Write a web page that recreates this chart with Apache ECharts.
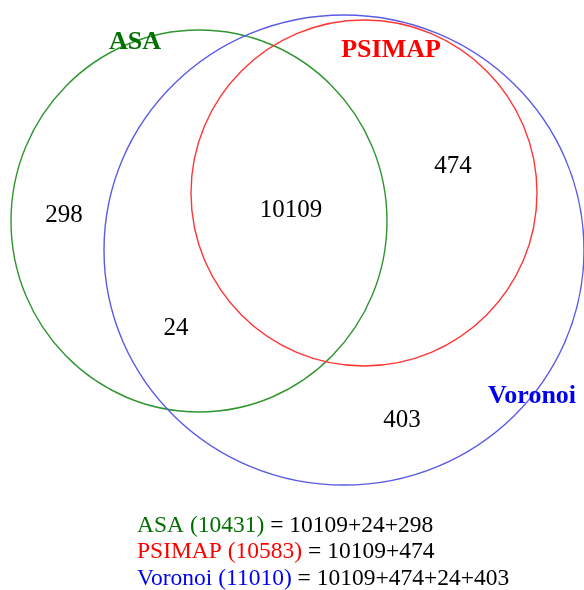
<!DOCTYPE html>
<html>
<head>
<meta charset="utf-8">
<script src="https://cdn.jsdelivr.net/npm/echarts@6/dist/echarts.min.js"></script>
<style>
  html, body { margin: 0; padding: 0; background: #fff; }
  #chart { width: 584px; height: 590px; }
</style>
</head>
<body>
<div id="chart"></div>
<script>
  // sets and their totals
  const setNames = ['ASA', 'PSIMAP', 'Voronoi']
  const setTotals = [10431, 10583, 11010]
  const setParts = [[10109, 24, 298], [10109, 474], [10109, 474, 24, 403]]

  // region counts (only ASA, all three, PSIMAP+Voronoi, ASA+Voronoi, only Voronoi)
  const regionCounts = [298, 10109, 474, 24, 403]

  // circle geometry in picture units: [cx, cy], [rx, ry]
  const circleCenters = [[199, 221], [364, 193], [344, 250]]
  const circleRadii = [[188, 191], [173, 173], [240, 235]]

  // where texts sit
  const setLabelPos = [[135, 42], [391, 50], [532, 396]]
  const regionPos = [[64, 215], [291, 210], [453, 166], [176, 328], [402, 420]]
  const formulaPos = [[137, 526], [137, 552], [137, 579]]

  const lineColors = ['#2f952f', '#ff3636', '#5a5ae6']
  const textColors = ['#007000', '#ff0000', '#0000f0']
  const serif = '"Liberation Serif", "DejaVu Serif", serif'

  const chart = echarts.init(document.getElementById('chart'))

  const circleData = circleCenters.map((c, i) => [c[0], c[1], circleRadii[i][0], circleRadii[i][1]])

  const formulaData = setNames.map((name, i) => ({
    value: formulaPos[i],
    label: {
      formatter: '{s' + i + '|' + name + ' (' + setTotals[i] + ')} = ' + setParts[i].join('+')
    }
  }))

  const option = {
    animation: false,
    grid: { left: 0, top: 0, width: 584, height: 590 },
    xAxis: { type: 'value', min: 0, max: 584, show: false },
    yAxis: { type: 'value', min: 0, max: 590, inverse: true, show: false },
    series: [
      {
        type: 'custom',
        clip: false,
        silent: true,
        data: circleData,
        renderItem: (params, api) => {
          const c = api.coord([api.value(0), api.value(1)])
          const r = api.size([api.value(2), api.value(3)])
          return {
            type: 'ellipse',
            shape: { cx: c[0], cy: c[1], rx: r[0], ry: r[1] },
            style: { fill: 'none', stroke: lineColors[params.dataIndex], lineWidth: 1.4 }
          }
        }
      },
      {
        type: 'scatter',
        symbolSize: 0,
        silent: true,
        itemStyle: { opacity: 1 },
        data: regionPos.map((p, i) => [p[0], p[1], regionCounts[i]]),
        label: {
          show: true,
          position: 'inside',
          formatter: p => p.value[2],
          color: '#000',
          textBorderWidth: 0,
          fontFamily: serif,
          fontSize: 25
        }
      },
      {
        type: 'scatter',
        symbolSize: 0,
        silent: true,
        itemStyle: { opacity: 1 },
        data: setLabelPos.map((p, i) => ({
          value: p,
          label: { formatter: setNames[i], color: textColors[i] }
        })),
        label: {
          show: true,
          position: 'inside',
          textBorderWidth: 0,
          fontFamily: serif,
          fontWeight: 'bold',
          fontSize: 26
        }
      },
      {
        type: 'scatter',
        symbolSize: 0,
        silent: true,
        itemStyle: { opacity: 1 },
        data: formulaData,
        label: {
          show: true,
          position: 'right',
          distance: 0,
          color: '#000',
          textBorderWidth: 0,
          fontFamily: serif,
          fontSize: 23.5,
          rich: {
            s0: { color: textColors[0], fontFamily: serif, fontSize: 23.5, textBorderWidth: 0 },
            s1: { color: textColors[1], fontFamily: serif, fontSize: 23.5, textBorderWidth: 0 },
            s2: { color: textColors[2], fontFamily: serif, fontSize: 23.5, textBorderWidth: 0 }
          }
        }
      }
    ]
  }

  chart.setOption(option)
</script>
</body>
</html>
